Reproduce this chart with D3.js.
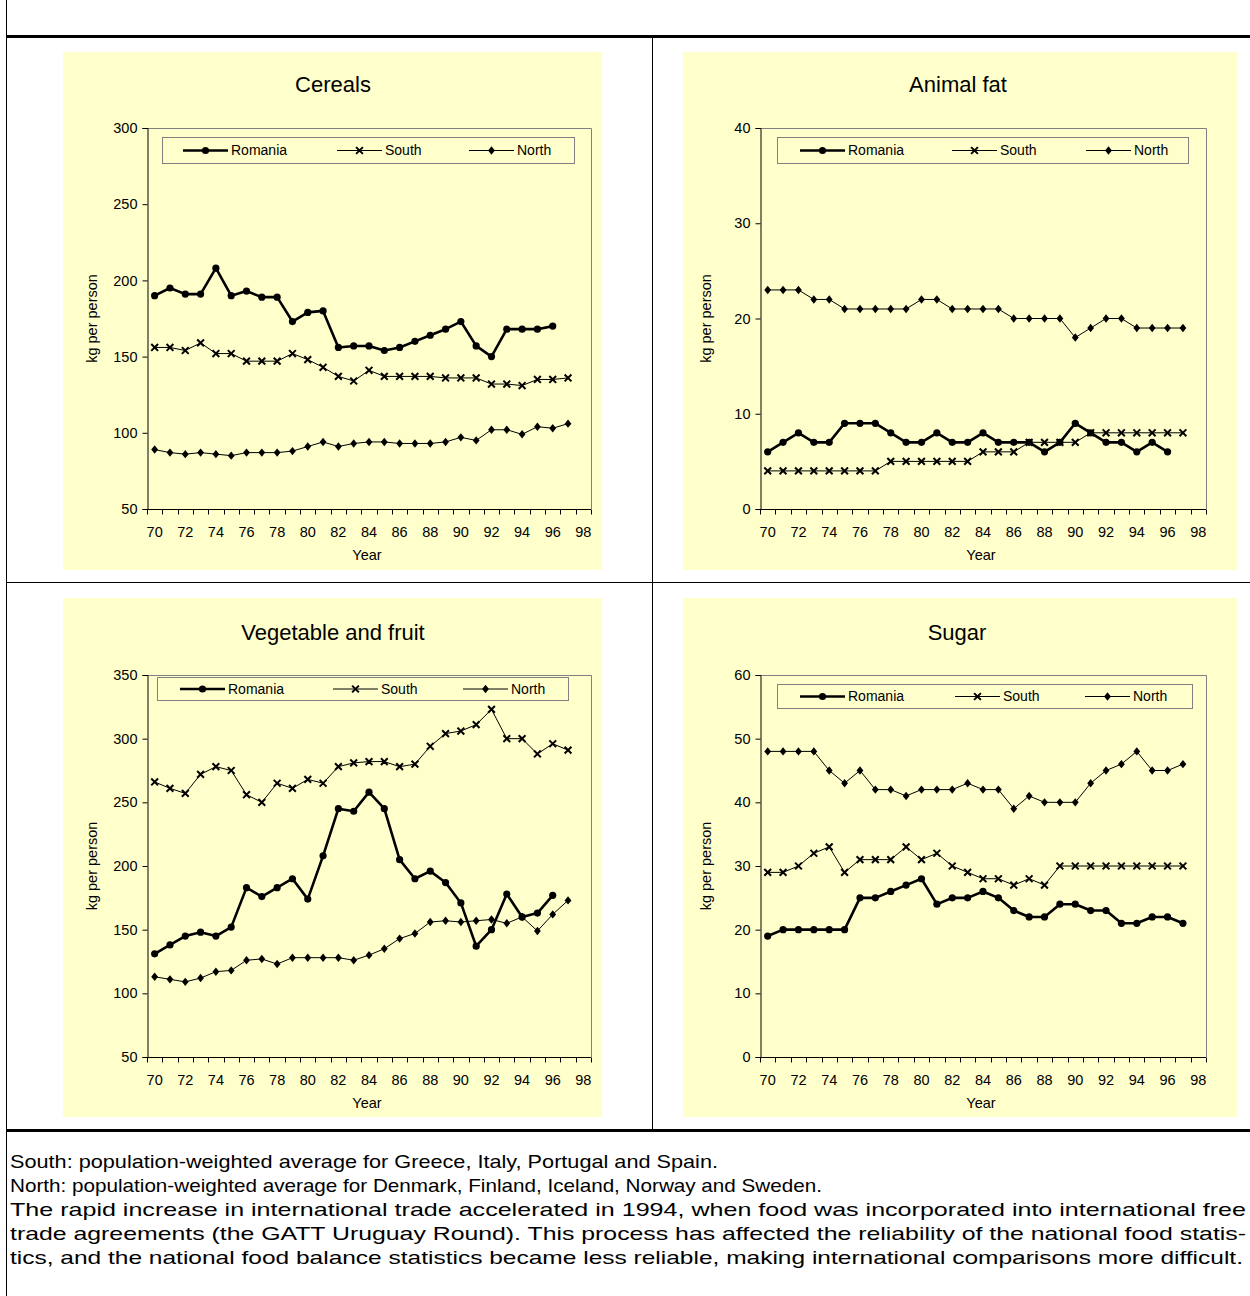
<!DOCTYPE html>
<html>
<head>
<meta charset="utf-8">
<script src="https://cdn.jsdelivr.net/npm/d3@7"></script>
<style>
  html, body { margin: 0; padding: 0; background: #ffffff; }
  svg { display: block; }
  text { font-family: "Liberation Sans", Arial, sans-serif; fill: #000; }
</style>
</head>
<body>
<script>
// ---------------- DATA ----------------
const years = ["70","71","72","73","74","75","76","77","78","79","80","81","82","83","84","85","86","87","88","89","90","91","92","93","94","95","96","97","98"];
const xTickLabels = ["70","72","74","76","78","80","82","84","86","88","90","92","94","96","98"];
const seriesNames = ["Romania", "South", "North"];

const cerealsRomania = [190,195,191,191,208,190,193,189,189,173,179,180,156,157,157,154,156,160,164,168,173,157,150,168,168,168,170];
const cerealsSouth   = [156,156,154,159,152,152,147,147,147,152,148,143,137,134,141,137,137,137,137,136,136,136,132,132,131,135,135,136];
const cerealsNorth   = [89,87,86,87,86,85,87,87,87,88,91,94,91,93,94,94,93,93,93,94,97,95,102,102,99,104,103,106];
const cerealsTicks   = [50,100,150,200,250,300];

const fatRomania = [6,7,8,7,7,9,9,9,8,7,7,8,7,7,8,7,7,7,6,7,9,8,7,7,6,7,6];
const fatSouth   = [4,4,4,4,4,4,4,4,5,5,5,5,5,5,6,6,6,7,7,7,7,8,8,8,8,8,8,8];
const fatNorth   = [23,23,23,22,22,21,21,21,21,21,22,22,21,21,21,21,20,20,20,20,18,19,20,20,19,19,19,19];
const fatTicks   = [0,10,20,30,40];

const vegRomania = [131,138,145,148,145,152,183,176,183,190,174,208,245,243,258,245,205,190,196,187,171,137,150,178,160,163,177];
const vegSouth   = [266,261,257,272,278,275,256,250,265,261,268,265,278,281,282,282,278,280,294,304,306,311,323,300,300,288,296,291];
const vegNorth   = [113,111,109,112,117,118,126,127,123,128,128,128,128,126,130,135,143,147,156,157,156,157,158,155,160,149,162,173];
const vegTicks   = [50,100,150,200,250,300,350];

const sugarRomania = [19,20,20,20,20,20,25,25,26,27,28,24,25,25,26,25,23,22,22,24,24,23,23,21,21,22,22,21];
const sugarSouth   = [29,29,30,32,33,29,31,31,31,33,31,32,30,29,28,28,27,28,27,30,30,30,30,30,30,30,30,30];
const sugarNorth   = [48,48,48,48,45,43,45,42,42,41,42,42,42,43,42,42,39,41,40,40,40,43,45,46,48,45,45,46];
const sugarTicks   = [0,10,20,30,40,50,60];

const panelTitles = ["Cereals", "Animal fat", "Vegetable and fruit", "Sugar"];
const xAxisTitle = "Year";
const yAxisTitle = "kg per person";

const footnotes = [
  "South: population-weighted average for Greece, Italy, Portugal and Spain.",
  "North: population-weighted average for Denmark, Finland, Iceland, Norway and Sweden.",
  "The rapid increase in international trade accelerated in 1994, when food was incorporated into international free",
  "trade agreements (the GATT Uruguay Round). This process has affected the reliability of the national food statis-",
  "tics, and the national food balance statistics became less reliable, making international comparisons more difficult."
];

// ---------------- LAYOUT ----------------
const W = 1250, H = 1296;
const YELLOW = "#FFFFCC";
const GRAY = "#808080";

const svg = d3.select("body").append("svg")
  .attr("width", W).attr("height", H)
  .attr("viewBox", `0 0 ${W} ${H}`);

// Frame lines
svg.append("line").attr("x1", 6.5).attr("x2", 6.5).attr("y1", 0).attr("y2", H).attr("stroke", "#000").attr("stroke-width", 1);
svg.append("line").attr("x1", 6).attr("x2", W).attr("y1", 36.5).attr("y2", 36.5).attr("stroke", "#000").attr("stroke-width", 3);
svg.append("line").attr("x1", 652.5).attr("x2", 652.5).attr("y1", 36).attr("y2", 1130).attr("stroke", "#000").attr("stroke-width", 1);
svg.append("line").attr("x1", 6).attr("x2", W).attr("y1", 582.5).attr("y2", 582.5).attr("stroke", "#000").attr("stroke-width", 1);
svg.append("line").attr("x1", 6).attr("x2", W).attr("y1", 1130.5).attr("y2", 1130.5).attr("stroke", "#000").attr("stroke-width", 3);

const panels = [
  { title: panelTitles[0], data: [cerealsRomania, cerealsSouth, cerealsNorth], ticks: cerealsTicks,
    bg: [63, 52, 602, 570], plot: [147, 128, 591, 509], titleX: 333, titleY: 92,
    legend: [162, 137, 574, 163], legendX: [183, 337, 469], yTitleX: 92 },
  { title: panelTitles[1], data: [fatRomania, fatSouth, fatNorth], ticks: fatTicks,
    bg: [683, 52, 1237, 570], plot: [760, 128, 1206, 509], titleX: 958, titleY: 92,
    legend: [777, 137, 1188, 163], legendX: [800, 952, 1086], yTitleX: 706 },
  { title: panelTitles[2], data: [vegRomania, vegSouth, vegNorth], ticks: vegTicks,
    bg: [63, 598, 602, 1117], plot: [147, 675, 591, 1057], titleX: 333, titleY: 640,
    legend: [157, 677, 568, 700], legendX: [180, 333, 463], yTitleX: 92 },
  { title: panelTitles[3], data: [sugarRomania, sugarSouth, sugarNorth], ticks: sugarTicks,
    bg: [683, 598, 1237, 1117], plot: [760, 675, 1206, 1057], titleX: 957, titleY: 640,
    legend: [777, 684, 1192, 708], legendX: [800, 955, 1085], yTitleX: 706 }
];

const styles = [
  { width: 2.6, marker: "circle" },
  { width: 1, marker: "x" },
  { width: 1, marker: "diamond" }
];

function drawMarker(g, type, x, y) {
  if (type === "circle") {
    g.append("circle").attr("cx", x).attr("cy", y).attr("r", 3.6).attr("fill", "#000");
  } else if (type === "x") {
    const s = 3.4;
    g.append("path")
      .attr("d", `M${x - s},${y - s}L${x + s},${y + s}M${x - s},${y + s}L${x + s},${y - s}`)
      .attr("stroke", "#000").attr("stroke-width", 2).attr("fill", "none");
  } else {
    g.append("path")
      .attr("d", `M${x},${y - 4.2}L${x + 3.4},${y}L${x},${y + 4.2}L${x - 3.4},${y}Z`)
      .attr("fill", "#000");
  }
}

panels.forEach(p => {
  const g = svg.append("g");
  const [bx0, by0, bx1, by1] = p.bg;
  g.append("rect").attr("x", bx0).attr("y", by0).attr("width", bx1 - bx0).attr("height", by1 - by0).attr("fill", YELLOW);

  g.append("text").attr("x", p.titleX).attr("y", p.titleY)
    .attr("text-anchor", "middle").attr("font-size", 22).text(p.title);

  const [px0, py0, px1, py1] = p.plot;
  const x = d3.scaleBand().domain(years).range([px0, px1]);
  const y = d3.scaleLinear().domain([p.ticks[0], p.ticks[p.ticks.length - 1]]).range([py1, py0]);

  // plot area border (top and right)
  g.append("path").attr("d", `M${px0},${py0 + 0.5}H${px1 + 0.5}V${py1}`)
    .attr("stroke", GRAY).attr("stroke-width", 1).attr("fill", "none");

  // Y axis
  const yAxis = d3.axisLeft(y).tickValues(p.ticks).tickSize(5).tickPadding(5).tickFormat(d3.format("d"));
  const yg = g.append("g").attr("transform", `translate(${px0 + 0.5},0)`).call(yAxis);
  yg.select(".domain").attr("stroke", "#000");
  yg.selectAll(".tick line").attr("stroke", "#000");
  yg.selectAll("text").attr("font-size", 14.5).attr("font-family", "Liberation Sans, Arial, sans-serif");

  // X axis: ticks at band boundaries, labels every 2nd category
  const xg = g.append("g").attr("transform", `translate(0,${py1 + 0.5})`);
  xg.append("line").attr("x1", px0).attr("x2", px1).attr("stroke", "#000");
  const bounds = years.map(d => x(d)).concat([px1]);
  xg.selectAll("line.tk").data(bounds).join("line").attr("class", "tk")
    .attr("x1", d => Math.round(d) + 0.5).attr("x2", d => Math.round(d) + 0.5)
    .attr("y1", 0).attr("y2", 5).attr("stroke", "#000");
  xg.selectAll("text.lbl").data(xTickLabels).join("text").attr("class", "lbl")
    .attr("x", d => x(d) + x.bandwidth() / 2).attr("y", 27)
    .attr("text-anchor", "middle").attr("font-size", 14.5).text(d => d);

  g.append("text").attr("x", (px0 + px1) / 2 - 2).attr("y", py1 + 51)
    .attr("text-anchor", "middle").attr("font-size", 14.5).text(xAxisTitle);

  g.append("text").attr("transform", `translate(${p.yTitleX},${(py0 + py1) / 2}) rotate(-90)`)
    .attr("text-anchor", "middle").attr("dy", "0.35em").attr("font-size", 14.5).text(yAxisTitle);

  // Series (draw North, South, then Romania on top)
  const order = [2, 1, 0];
  order.forEach(i => {
    const vals = p.data[i];
    const pts = vals.map((v, k) => [x(years[k]) + x.bandwidth() / 2, y(v)]);
    g.append("path").attr("d", d3.line()(pts))
      .attr("fill", "none").attr("stroke", "#000").attr("stroke-width", styles[i].width)
      .attr("stroke-linejoin", "round");
    const mg = g.append("g");
    pts.forEach(pt => drawMarker(mg, styles[i].marker, pt[0], pt[1]));
  });

  // Legend
  const [lx0, ly0, lx1, ly1] = p.legend;
  g.append("rect").attr("x", lx0 + 0.5).attr("y", ly0 + 0.5).attr("width", lx1 - lx0).attr("height", ly1 - ly0)
    .attr("fill", YELLOW).attr("stroke", GRAY).attr("stroke-width", 1);
  const ly = (ly0 + ly1) / 2 + 0.5;
  seriesNames.forEach((name, i) => {
    const sx = p.legendX[i];
    g.append("line").attr("x1", sx).attr("x2", sx + 45).attr("y1", ly).attr("y2", ly)
      .attr("stroke", "#000").attr("stroke-width", styles[i].width);
    drawMarker(g, styles[i].marker, sx + 22.5, ly);
    g.append("text").attr("x", sx + 48).attr("y", ly).attr("dy", "0.35em")
      .attr("font-size", 14).text(name);
  });
});

// Footnotes
const fnBaselines = [1168, 1192, 1216, 1240, 1264];
const fnWidths = [708, 812, 1236, 1236, 1233];
footnotes.forEach((t, i) => {
  svg.append("text").attr("x", 10).attr("y", fnBaselines[i])
    .attr("font-size", 19)
    .attr("textLength", fnWidths[i]).attr("lengthAdjust", "spacingAndGlyphs")
    .text(t);
});
</script>
</body>
</html>
